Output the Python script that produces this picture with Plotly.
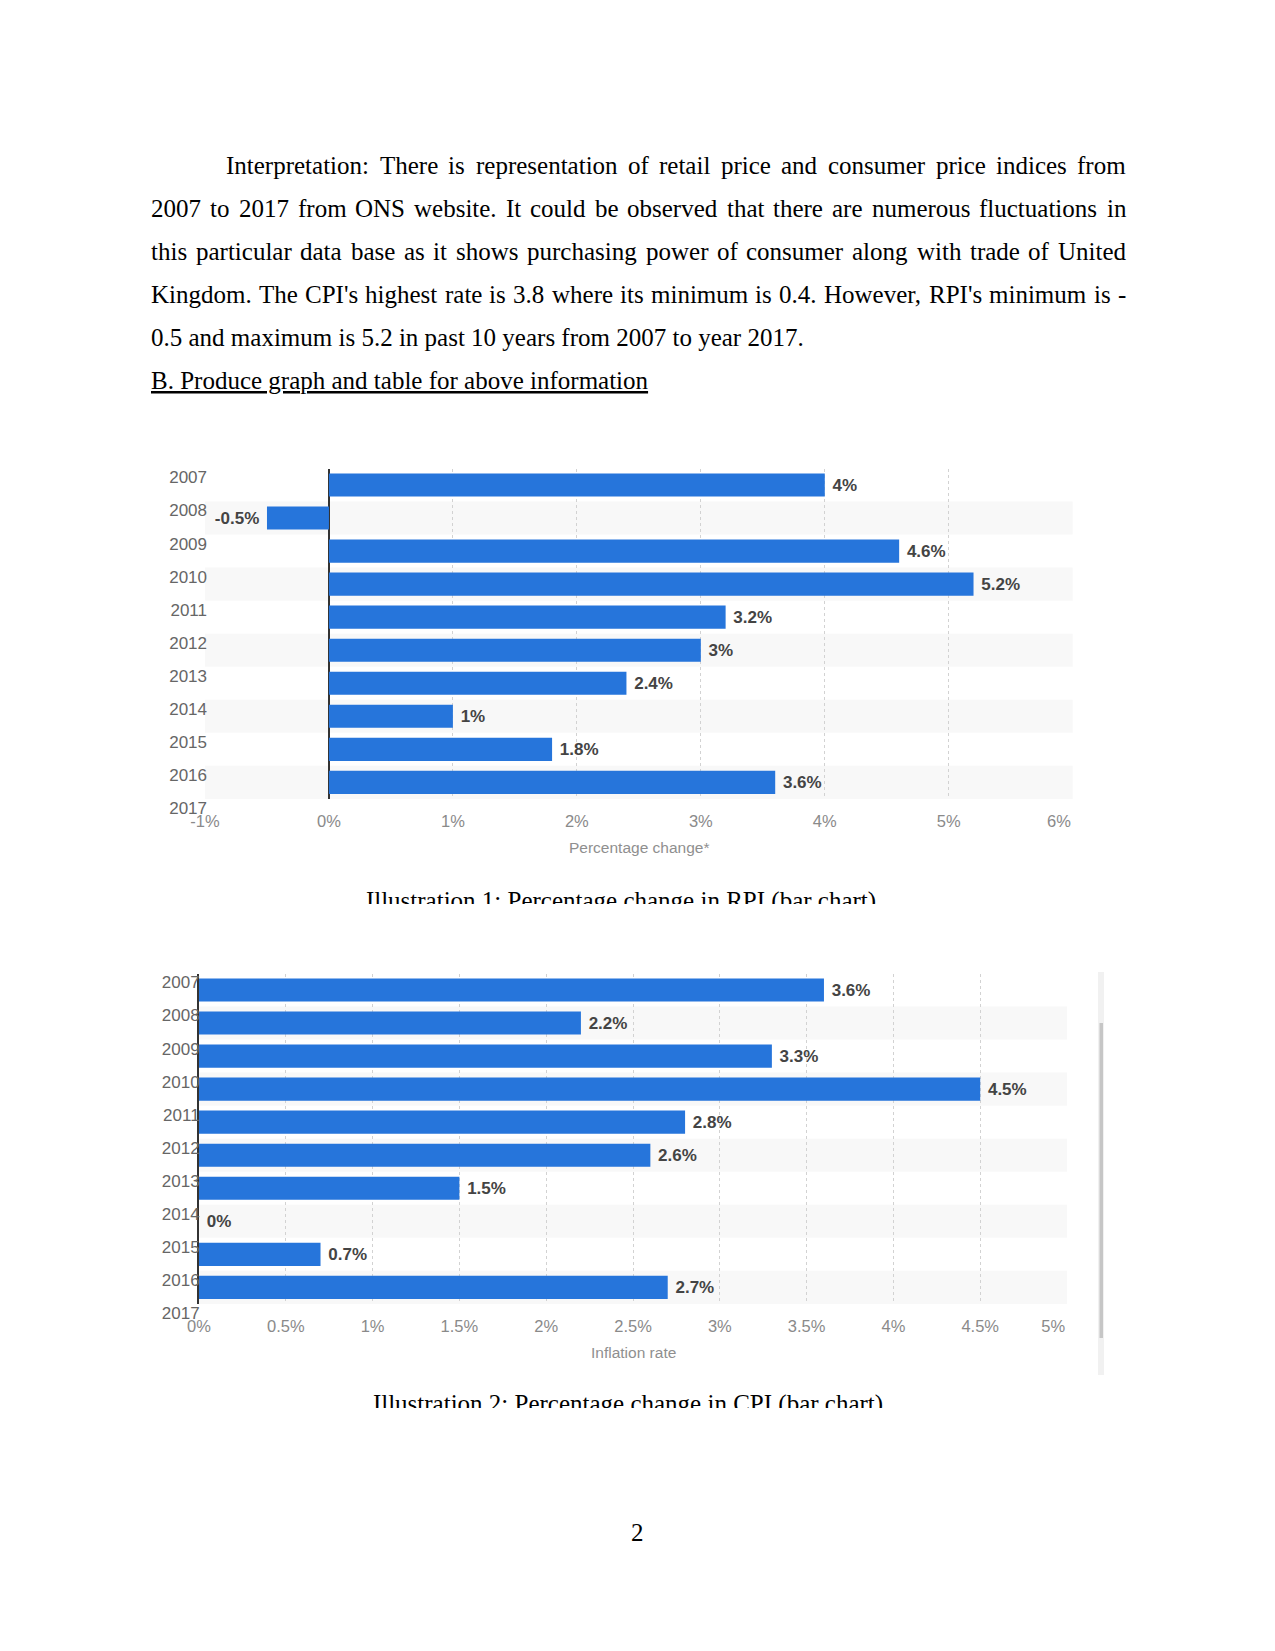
import plotly.graph_objects as go

# ---------------- data ----------------
years = ["2007", "2008", "2009", "2010", "2011", "2012", "2013", "2014", "2015", "2016", "2017"]
rpi_change = [4, -0.5, 4.6, 5.2, 3.2, 3, 2.4, 1, 1.8, 3.6]
cpi_change = [3.6, 2.2, 3.3, 4.5, 2.8, 2.6, 1.5, 0, 0.7, 2.7]
rpi_ticks = [-1, 0, 1, 2, 3, 4, 5, 6]
cpi_ticks = [0, 0.5, 1, 1.5, 2, 2.5, 3, 3.5, 4, 4.5, 5]
rpi_axis_title = "Percentage change*"
cpi_axis_title = "Inflation rate"

paragraph_lines = [
    "Interpretation: There is representation of retail price and consumer price indices from",
    "2007 to 2017 from ONS website. It could be observed that there are numerous fluctuations in",
    "this particular data base as it shows purchasing power of consumer along with trade of United",
    "Kingdom. The CPI's highest rate is 3.8 where its minimum is 0.4. However, RPI's minimum is -",
    "0.5 and maximum is 5.2 in past 10 years from 2007 to year 2017.",
]
heading = "B. Produce graph and table for above information"
caption_rpi = "Illustration 1: Percentage change in RPI (bar chart)"
caption_cpi = "Illustration 2: Percentage change in CPI (bar chart)"
page_number = "2"

# ---------------- styling / layout constants ----------------
W, H = 1275, 1651          # page (browser window) size
M = 8                      # default body margin of the html page
FW, FH = W - 2 * M, H - 2 * M   # figure size so that the page fits exactly
BLUE = "#2675db"
SERIF = "Liberation Serif"
SANS = "Liberation Sans"
LABEL_COLOR = "#444444"
YEAR_COLOR = "#666666"
TICK_COLOR = "#8a8a8a"
TITLE_COLOR = "#8f8f8f"
GRID_COLOR = "#d2d2d2"
BAND_COLOR = "#f8f8f8"
NBSP = "\u00a0"


def fx(p):
    """page pixel x -> paper fraction"""
    return (p - M) / FW


def fy(p):
    """page pixel y (from top) -> paper fraction"""
    return 1 - (p - M) / FH


# Times / Liberation Serif advance widths (per 1000 em)
TIMES = {" ": 250, "'": 180, "(": 333, ")": 333, "*": 500, ",": 250, "-": 333, ".": 250, ":": 278, ";": 278}
for c in "0123456789":
    TIMES[c] = 500
TIMES.update(dict(zip("ABCDEFGHIJKLMNOPQRSTUVWXYZ",
                      [722, 667, 667, 722, 611, 556, 722, 722, 333, 389, 722, 611, 889, 722, 722, 556, 722, 667,
                       556, 611, 722, 722, 944, 722, 722, 611])))
TIMES.update(dict(zip("abcdefghijklmnopqrstuvwxyz",
                      [444, 500, 444, 500, 444, 333, 500, 500, 278, 278, 500, 278, 778, 500, 500, 500, 500, 333,
                       389, 278, 500, 500, 722, 500, 500, 444])))


def word_width(word, size):
    return sum(TIMES.get(ch, 500) for ch in word) * size / 1000


def bar_label(v):
    s = f"{v:g}%"
    return NBSP + s if v >= 0 else s + NBSP


def tick_labels(ticks):
    # the last label is pulled inside the chart edge, as in the source chart
    out = [f"{t:g}%" for t in ticks]
    out[-1] = out[-1] + NBSP * 6
    return out


fig = go.Figure()

label_font = dict(family=SANS, size=17, color=LABEL_COLOR, weight="bold")

fig.add_trace(go.Bar(
    x=rpi_change, y=[i + 0.5 for i in range(len(rpi_change))], orientation="h", width=0.7,
    marker=dict(color=BLUE, line=dict(width=0)),
    text=[bar_label(v) for v in rpi_change], textposition="outside", textfont=label_font,
    constraintext="none", cliponaxis=False, hoverinfo="skip", showlegend=False,
    xaxis="x", yaxis="y"))

fig.add_trace(go.Bar(
    x=cpi_change, y=[i + 0.5 for i in range(len(cpi_change))], orientation="h", width=0.7,
    marker=dict(color=BLUE, line=dict(width=0)),
    text=[bar_label(v) for v in cpi_change], textposition="outside", textfont=label_font,
    constraintext="none", cliponaxis=False, hoverinfo="skip", showlegend=False,
    xaxis="x2", yaxis="y2"))

# captions (clipped by their own subplot area, as in the document)
CAP1 = dict(cx=621, baseline=908.5, clip=904, top=876)
CAP2 = dict(cx=628, baseline=1412, clip=1408, top=1380)
for cap, txt, xa, ya in [(CAP1, caption_rpi, "x3", "y3"), (CAP2, caption_cpi, "x4", "y4")]:
    fig.add_trace(go.Scatter(
        x=[cap["cx"]], y=[H - (cap["baseline"] - 0.25 * 25)], mode="text", text=[txt],
        textposition="middle center", textfont=dict(family=SERIF, size=25, color="black"),
        cliponaxis=True, hoverinfo="skip", showlegend=False, xaxis=xa, yaxis=ya))

tick_font = dict(family=SANS, size=16.5, color=TICK_COLOR)
year_font = dict(family=SANS, size=17, color=YEAR_COLOR)

common_x = dict(showgrid=True, gridcolor=GRID_COLOR, griddash="dot", gridwidth=1, ticks="",
                tickfont=tick_font, ticklabelstandoff=11, fixedrange=True, showline=False,
                automargin=False)
common_y = dict(showgrid=False, zeroline=False, ticks="", tickfont=year_font, fixedrange=True,
                tickvals=list(range(len(years))), ticktext=years, ticklabelshift=-9,
                automargin=False)
hidden = dict(visible=False, fixedrange=True, automargin=False)

layout = dict(
    template="none",
    width=FW, height=FH, autosize=False, margin=dict(l=0, r=0, t=0, b=0, pad=0),
    paper_bgcolor="white", plot_bgcolor="white", showlegend=False, hovermode=False,
    xaxis=dict(domain=[fx(205), fx(1072.7)], range=[rpi_ticks[0], rpi_ticks[-1]], anchor="y",
               tickvals=rpi_ticks, ticktext=tick_labels(rpi_ticks),
               zeroline=True, zerolinecolor="#333333", zerolinewidth=2, **common_x),
    yaxis=dict(domain=[fy(798.9), fy(468.5)], range=[len(rpi_change), 0], anchor="x",
               showline=False, ticklabelstandoff=-3, **common_y),
    xaxis2=dict(domain=[fx(199), fx(1067)], range=[cpi_ticks[0], cpi_ticks[-1]], anchor="y2",
                tickvals=cpi_ticks, ticktext=tick_labels(cpi_ticks),
                zeroline=False, **common_x),
    yaxis2=dict(domain=[fy(1303.9), fy(973.5)], range=[len(cpi_change), 0], anchor="x2",
                showline=True, linecolor="#333333", linewidth=2, ticklabelstandoff=-6, **common_y),
    xaxis3=dict(domain=[0, 1], range=[M, W - M], anchor="y3", **hidden),
    yaxis3=dict(domain=[fy(CAP1["clip"]), fy(CAP1["top"])], range=[H - CAP1["clip"], H - CAP1["top"]],
                anchor="x3", **hidden),
    xaxis4=dict(domain=[0, 1], range=[M, W - M], anchor="y4", **hidden),
    yaxis4=dict(domain=[fy(CAP2["clip"]), fy(CAP2["top"])], range=[H - CAP2["clip"], H - CAP2["top"]],
                anchor="x4", **hidden),
)

shapes = []
for i in range(len(rpi_change)):
    if i % 2 == 1:
        shapes.append(dict(type="rect", xref="x domain", yref="y", x0=0, x1=1, y0=i, y1=i + 1,
                           fillcolor=BAND_COLOR, line=dict(width=0), layer="below"))
for i in range(len(cpi_change)):
    if i % 2 == 1:
        shapes.append(dict(type="rect", xref="x2 domain", yref="y2", x0=0, x1=1, y0=i, y1=i + 1,
                           fillcolor=BAND_COLOR, line=dict(width=0), layer="below"))
# scrollbar strip beside the second chart
shapes.append(dict(type="rect", xref="paper", yref="paper", x0=fx(1098), x1=fx(1104), y0=fy(1375), y1=fy(972),
                   fillcolor="#f1f1f1", line=dict(width=0), layer="above"))
shapes.append(dict(type="rect", xref="paper", yref="paper", x0=fx(1099.5), x1=fx(1103), y0=fy(1338), y1=fy(1023),
                   fillcolor="#c6c6c6", line=dict(width=0), layer="above"))
layout["shapes"] = shapes

annotations = []
body_font = dict(family=SERIF, size=25, color="black")
LINE_Y = [166, 208.8, 251.6, 294.4, 337.2, 380]
LEFT, RIGHT, INDENT = 150, 1125, 225
for k, line in enumerate(paragraph_lines):
    left = INDENT if k == 0 else LEFT
    if k < len(paragraph_lines) - 1:
        words = line.split(" ")
        widths = [word_width(w, 25) for w in words]
        gap = (RIGHT - left - sum(widths)) / (len(words) - 1)
        x = left
        for w, wd in zip(words, widths):
            annotations.append(dict(text=w, x=fx(x), y=fy(LINE_Y[k]), xref="paper", yref="paper",
                                    xanchor="left", yanchor="middle", showarrow=False, font=body_font,
                                    borderpad=0))
            x += wd + gap
    else:
        annotations.append(dict(text=line, x=fx(left), y=fy(LINE_Y[k]), xref="paper", yref="paper",
                                xanchor="left", yanchor="middle", showarrow=False, font=body_font, borderpad=0))
annotations.append(dict(text=f"<u>{heading}</u>", x=fx(LEFT), y=fy(LINE_Y[5]), xref="paper", yref="paper",
                        xanchor="left", yanchor="middle", showarrow=False, font=body_font, borderpad=0))
annotations.append(dict(text=page_number, x=fx(637), y=fy(1532), xref="paper", yref="paper",
                        xanchor="center", yanchor="middle", showarrow=False, font=body_font, borderpad=0))
title_font = dict(family=SANS, size=15.5, color=TITLE_COLOR)
annotations.append(dict(text=rpi_axis_title, x=fx(638.5), y=fy(847.7), xref="paper", yref="paper",
                        xanchor="center", yanchor="middle", showarrow=False, font=title_font, borderpad=0))
annotations.append(dict(text=cpi_axis_title, x=fx(633), y=fy(1352.7), xref="paper", yref="paper",
                        xanchor="center", yanchor="middle", showarrow=False, font=title_font, borderpad=0))
layout["annotations"] = annotations

fig.update_layout(**layout)

fig.write_html("out.html", config={"displayModeBar": False, "staticPlot": True})
